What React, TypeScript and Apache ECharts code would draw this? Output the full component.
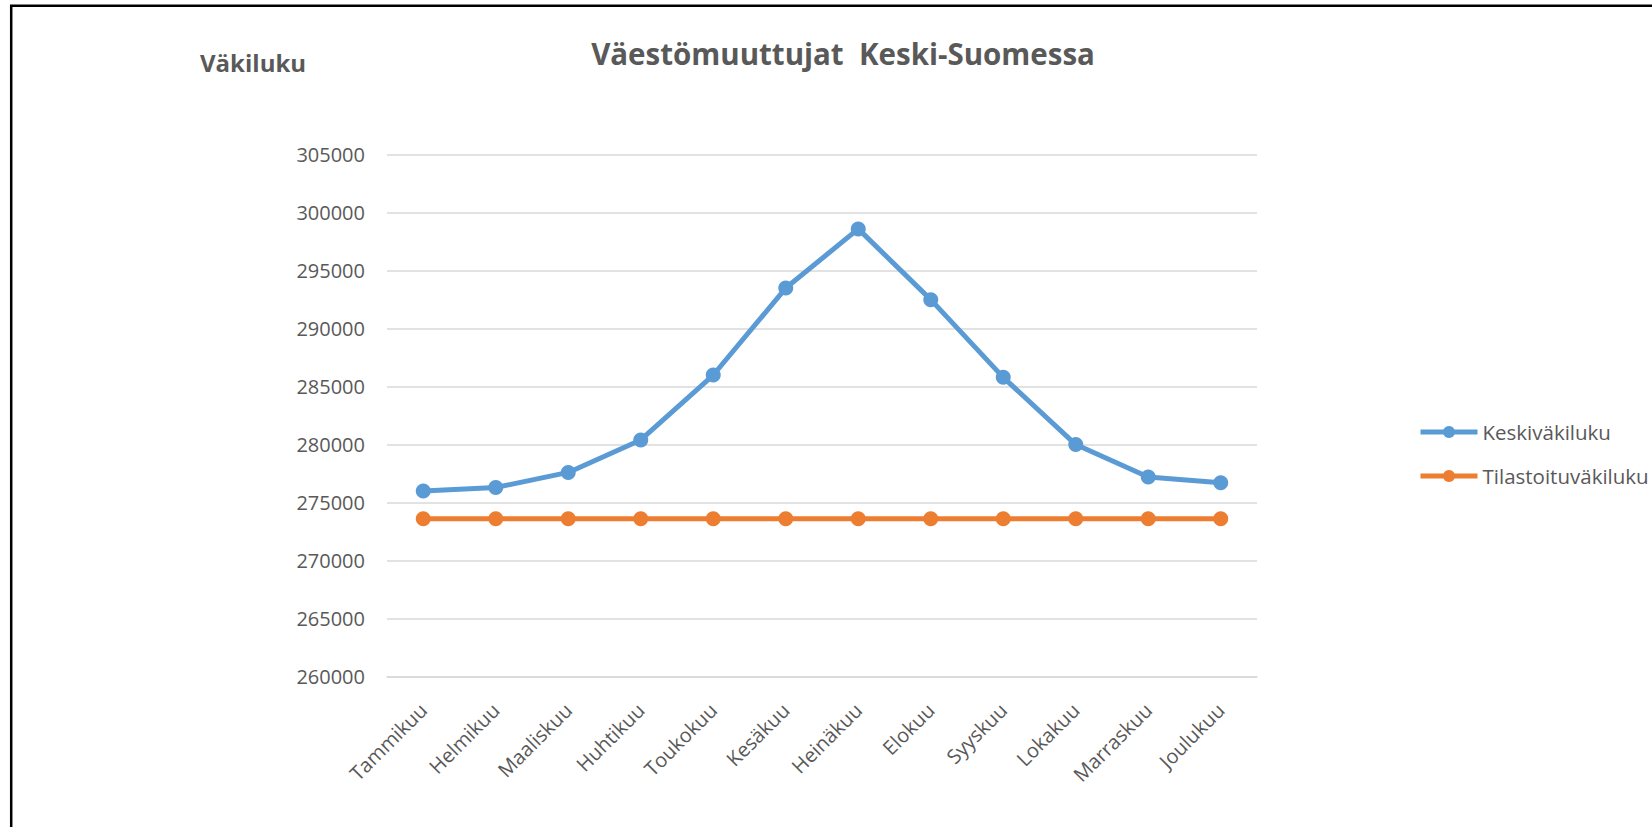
import React, { useEffect, useRef } from "react";
import * as echarts from "echarts";

const months = [
  "Tammikuu", "Helmikuu", "Maaliskuu", "Huhtikuu", "Toukokuu", "Kesäkuu",
  "Heinäkuu", "Elokuu", "Syyskuu", "Lokakuu", "Marraskuu", "Joulukuu",
];
const keskivakiluku = [276000, 276300, 277600, 280400, 286000, 293500, 298600, 292500, 285800, 280000, 277200, 276700];
const tilastoituvakiluku = [273600, 273600, 273600, 273600, 273600, 273600, 273600, 273600, 273600, 273600, 273600, 273600];
const seriesNames = ["Keskiväkiluku", "Tilastoituväkiluku"];
const chartTitle = "Väestömuuttujat  Keski-Suomessa";
const axisTitle = "Väkiluku";
const yMin = 260000;
const yMax = 305000;
const yStep = 5000;

const FONT = "'Open Sans', sans-serif";
const TEXT = "#595959";

export default function App() {
  const ref = useRef<HTMLDivElement>(null);
  useEffect(() => {
    if (!ref.current) return;
    const chart = echarts.init(ref.current, undefined, { renderer: "svg" });
    chart.setOption({
      animation: false,
      backgroundColor: "#ffffff",
      textStyle: { fontFamily: FONT },
      title: [
        {
          text: chartTitle,
          left: 843,
          top: 38,
          textAlign: "center",
          padding: 0,
          textStyle: { fontFamily: FONT, fontSize: 29.5, fontWeight: "bold", color: TEXT },
        },
        {
          text: axisTitle,
          left: 200,
          top: 50,
          padding: 0,
          textStyle: { fontFamily: FONT, fontSize: 24, fontWeight: "bold", color: TEXT },
        },
      ],
      legend: {
        orient: "vertical",
        left: 1418,
        top: 421,
        padding: 0,
        itemWidth: 57,
        itemHeight: 15,
        itemGap: 22,
        data: seriesNames,
        lineStyle: { width: 5 },
        textStyle: { fontFamily: FONT, fontSize: 20.5, color: TEXT, lineHeight: 22 },
      },
      grid: { left: 387, right: 395, top: 154.7, bottom: 150.5, containLabel: false },
      xAxis: {
        type: "category",
        data: months,
        boundaryGap: true,
        axisLine: { show: true, lineStyle: { color: "#d9d9d9", width: 1.5 } },
        axisTick: { show: false },
        axisLabel: {
          rotate: 45,
          margin: 30,
          interval: 0,
          fontFamily: FONT,
          fontSize: 20,
          color: TEXT,
        },
      },
      yAxis: {
        type: "value",
        min: yMin,
        max: yMax,
        interval: yStep,
        axisLine: { show: false },
        axisTick: { show: false },
        splitLine: { lineStyle: { color: "#d9d9d9", width: 1.5 } },
        axisLabel: {
          margin: 22,
          fontFamily: FONT,
          fontSize: 20,
          color: TEXT,
          formatter: (v: number) => String(v),
        },
      },
      series: [
        {
          name: seriesNames[0],
          type: "line",
          data: keskivakiluku,
          symbol: "circle",
          symbolSize: 15,
          itemStyle: { color: "#5b9bd5" },
          lineStyle: { color: "#5b9bd5", width: 5 },
        },
        {
          name: seriesNames[1],
          type: "line",
          data: tilastoituvakiluku,
          symbol: "circle",
          symbolSize: 15,
          itemStyle: { color: "#ed7d31" },
          lineStyle: { color: "#ed7d31", width: 5 },
        },
      ],
      graphic: [
        {
          type: "rect",
          shape: { x: 11.2, y: 5.8, width: 1700, height: 900 },
          style: { fill: "none", stroke: "#000000", lineWidth: 2.5 },
          silent: true,
        },
      ],
    });
    return () => chart.dispose();
  }, []);
  return (
    <div
      ref={ref}
      style={{ position: "absolute", left: 0, top: 0, width: 1652, height: 827 }}
    />
  );
}
